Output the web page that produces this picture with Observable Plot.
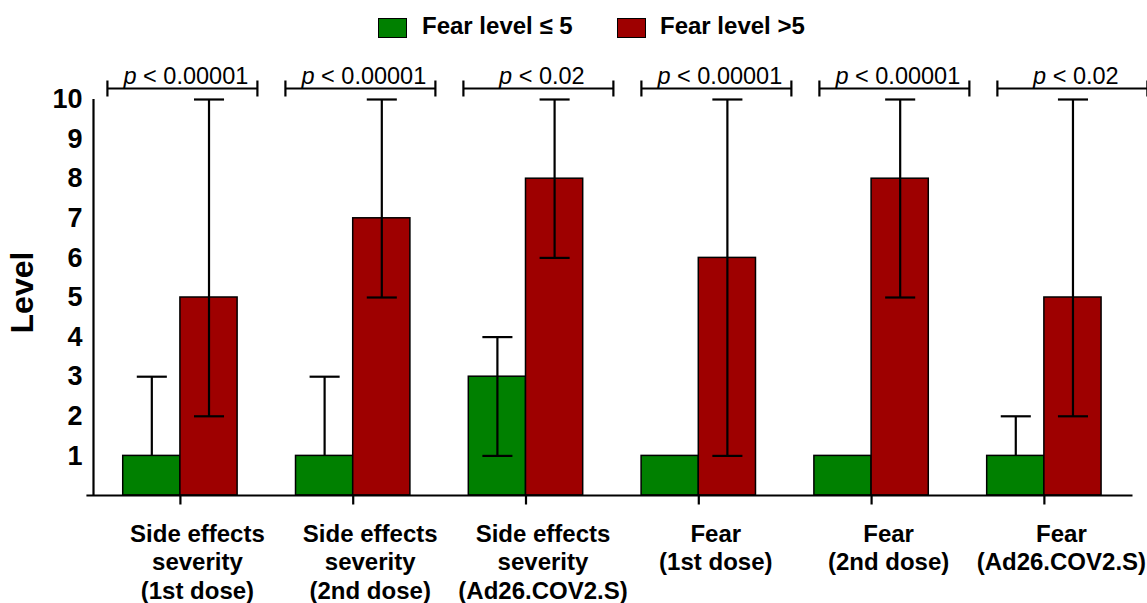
<!DOCTYPE html>
<html>
<head>
<meta charset="utf-8">
<script src="https://cdn.jsdelivr.net/npm/d3@7"></script>
<script src="https://cdn.jsdelivr.net/npm/@observablehq/plot@0.6"></script>
<style>
  body { margin: 0; background: #fff; font-family: "Liberation Sans", Arial, sans-serif; }
  #wrap { position: relative; width: 1147px; height: 603px; }
  #legend { position: relative; height: 50px; }
  .sw { position: absolute; top: 18px; width: 27px; height: 18px; border: 1px solid #000; }
  .lt { position: absolute; top: 12px; font-size: 24px; line-height: 28px; font-weight: bold; color: #000; white-space: nowrap; }
  svg { display: block; }
</style>
</head>
<body>
<div id="wrap">
  <div id="legend"></div>
  <div id="chart"></div>
</div>
<script>
// ---- data ----
const groups = [
  "Side effects\nseverity\n(1st dose)",
  "Side effects\nseverity\n(2nd dose)",
  "Side effects\nseverity\n(Ad26.COV2.S)",
  "Fear\n(1st dose)",
  "Fear\n(2nd dose)",
  "Fear\n(Ad26.COV2.S)"
];
const seriesNames = ["Fear level \u2264 5", "Fear level >5"];
const seriesColors = ["#008000", "#9e0000"];
const lowMedian = [1, 1, 3, 1, 1, 1];
const lowMin    = [1, 1, 1, 1, 1, 1];
const lowMax    = [3, 3, 4, 1, 1, 2];
const highMedian = [5, 7, 8, 6, 8, 5];
const highMin    = [2, 5, 6, 1, 5, 2];
const highMax    = [10, 10, 10, 10, 10, 10];
const pLabels = ["p < 0.00001", "p < 0.00001", "p < 0.02", "p < 0.00001", "p < 0.00001", "p < 0.02"];
const yTicks = [1, 2, 3, 4, 5, 6, 7, 8, 9, 10];

// ---- layout constants ----
const W = 1147, H = 553;
const mTop = 49, mBottom = 108, mLeft = 93, mRight = 15;
const pxPerY = (H - mTop - mBottom) / 10;
const barW = 0.331;   // in group units
const capW = 0.087;

// table
const rows = [];
groups.forEach((g, i) => {
  rows.push({i, s: 0, v: lowMedian[i], lo: lowMin[i], hi: lowMax[i]});
  rows.push({i, s: 1, v: highMedian[i], lo: highMin[i], hi: highMax[i]});
});
const center = d => d.s === 0 ? d.i - barW / 2 : d.i + barW / 2;
const idx = groups.map((g, i) => i);
const bracketC = i => i + (2 + i * 5.2) / 172.8;
const bY = 10 + 11 / pxPerY;

const font = '"Liberation Sans", Arial, sans-serif';

const plot = Plot.plot({
  width: W, height: H,
  marginTop: mTop, marginBottom: mBottom, marginLeft: mLeft, marginRight: mRight,
  style: {fontFamily: font, overflow: "visible"},
  x: {domain: [-0.503, 5.51], axis: null},
  y: {domain: [0, 10], axis: null},
  marks: [
    Plot.rectY(rows, {
      x1: d => d.s === 0 ? d.i - barW : d.i,
      x2: d => d.s === 0 ? d.i : d.i + barW,
      y1: 0, y2: "v",
      fill: d => seriesColors[d.s],
      stroke: "#000", strokeWidth: 1.5
    }),
    // whiskers
    Plot.link(rows, {x1: center, x2: center, y1: "lo", y2: "hi", stroke: "#000", strokeWidth: 2.2}),
    Plot.link(rows.filter(d => d.hi !== d.v), {x1: d => center(d) - capW, x2: d => center(d) + capW, y1: "hi", y2: "hi", stroke: "#000", strokeWidth: 2.2}),
    Plot.link(rows.filter(d => d.lo !== d.v), {x1: d => center(d) - capW, x2: d => center(d) + capW, y1: "lo", y2: "lo", stroke: "#000", strokeWidth: 2.2}),
    // y axis
    Plot.ruleX([-0.503], {y1: 0, y2: 10, stroke: "#000", strokeWidth: 2.2}),
    Plot.axisY(yTicks, {
      anchor: "left", tickSize: 7, tickPadding: 4, tickWidth: 2.2,
      fontSize: 27, fontWeight: "bold", fill: "#000", stroke: null, label: null
    }),
    // x axis line + ticks
    Plot.link([0], {x1: -0.544, x2: 5.51, y1: 0, y2: 0, stroke: "#000", strokeWidth: 2.2}),
    Plot.link(idx, {x1: d => d, x2: d => d, y1: 0, y2: -9 / pxPerY, stroke: "#000", strokeWidth: 2.2}),
    // x labels
    Plot.text(idx, {
      x: d => d, y: 0, text: d => groups[d], lineAnchor: "top", dy: 26, dx: 17,
      lineHeight: 1.19, fontSize: 24, fontWeight: "bold", fill: "#000"
    }),
    // p-value brackets
    Plot.link(idx, {x1: d => bracketC(d) - 0.434, x2: d => bracketC(d) + 0.434, y1: bY, y2: bY, stroke: "#000", strokeWidth: 2.2}),
    Plot.link(idx, {x1: d => bracketC(d) - 0.434, x2: d => bracketC(d) - 0.434, y1: bY - 8 / pxPerY, y2: bY + 8 / pxPerY, stroke: "#000", strokeWidth: 2.2}),
    Plot.link(idx, {x1: d => bracketC(d) + 0.434, x2: d => bracketC(d) + 0.434, y1: bY - 8 / pxPerY, y2: bY + 8 / pxPerY, stroke: "#000", strokeWidth: 2.2}),
    Plot.text(idx, {
      x: d => bracketC(d) + 0.02, y: bY, text: d => pLabels[d], lineAnchor: "bottom", dy: -5,
      fontSize: 23.5, fill: "#000", className: "ptext"
    }),
    // y label
    Plot.text(["Level"], {
      x: -0.503, y: 5.05, text: d => d, rotate: -90, dx: -71, dy: -3, fontSize: 32, fontWeight: "bold", fill: "#000"
    })
  ]
});

// italic "p"
d3.select(plot).selectAll(".ptext text").each(function() {
  const t = this.textContent;
  const rest = t.slice(1);
  this.textContent = "";
  const sel = d3.select(this);
  sel.append("tspan").attr("font-style", "italic").text("p");
  sel.append("tspan").text(rest);
});

document.getElementById("chart").appendChild(plot);

// legend
const leg = document.getElementById("legend");
const swX = [378, 617], txX = [422, 660];
seriesNames.forEach((n, k) => {
  const s = document.createElement("div");
  s.className = "sw"; s.style.left = swX[k] + "px"; s.style.background = seriesColors[k];
  leg.appendChild(s);
  const t = document.createElement("div");
  t.className = "lt"; t.style.left = txX[k] + "px"; t.textContent = n;
  leg.appendChild(t);
});
</script>
</body>
</html>
